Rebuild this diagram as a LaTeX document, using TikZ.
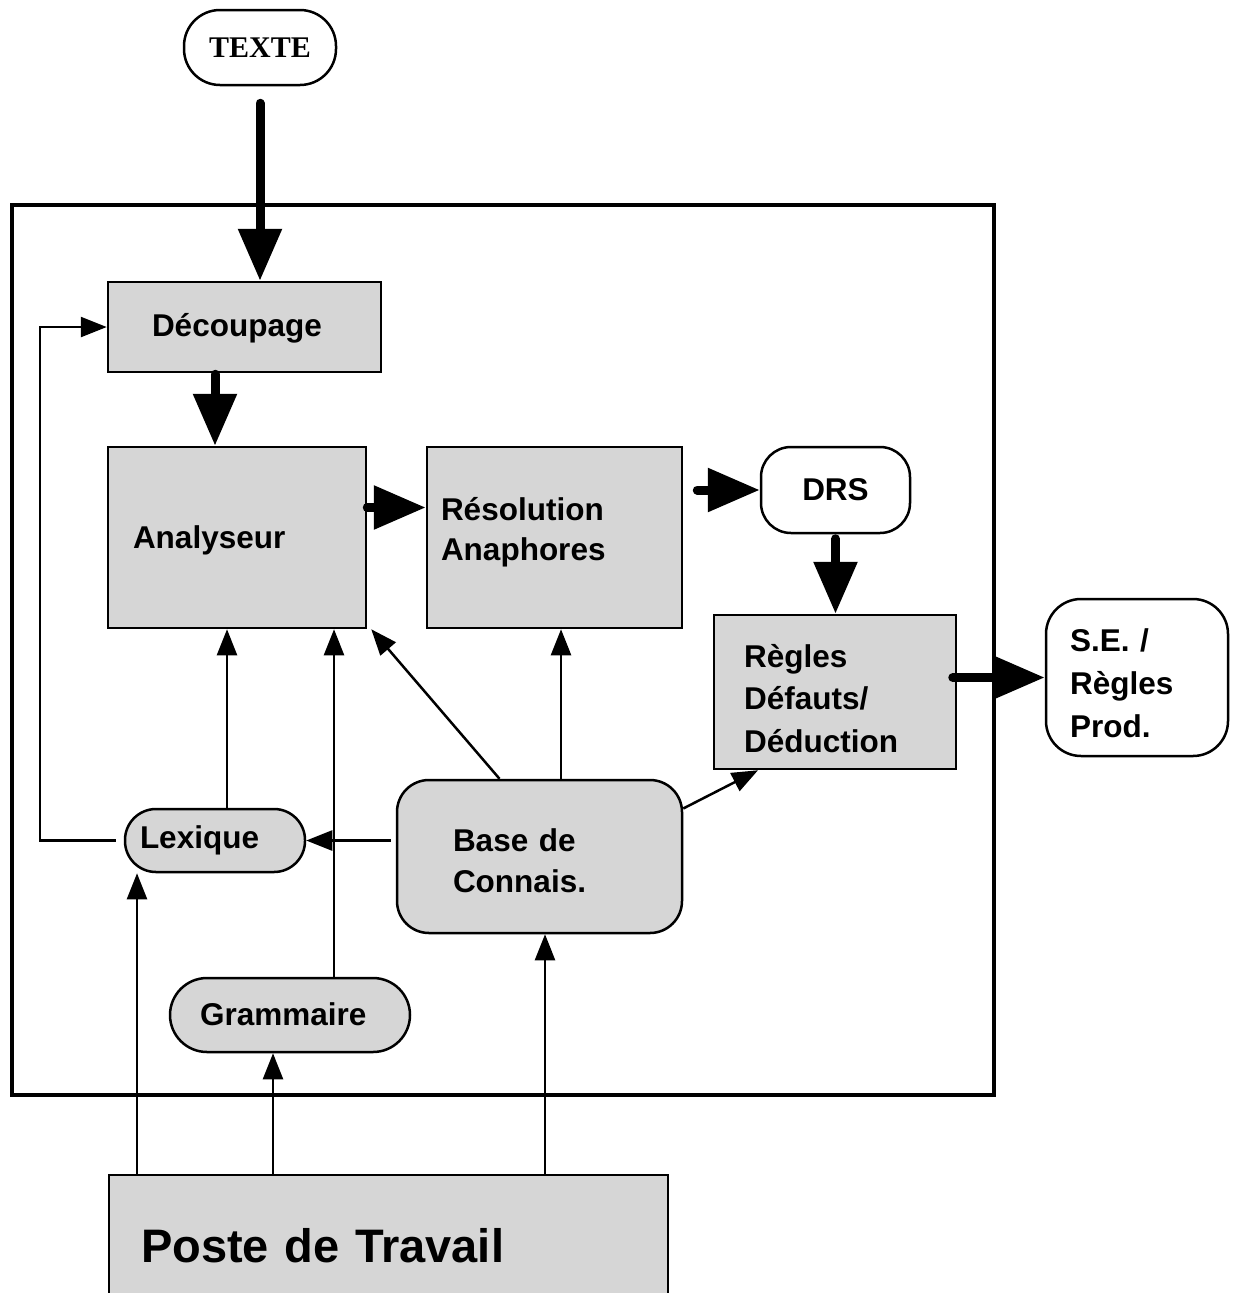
\documentclass[tikz,border=0pt]{standalone}
\usepackage{fontspec}
\setmainfont{Liberation Sans}
\newfontfamily\serifbf{Liberation Serif}
\usetikzlibrary{arrows.meta}
\definecolor{boxgray}{RGB}{214,214,214}
\begin{document}
\begin{tikzpicture}[x=1pt, y=-1pt, font=\bfseries\fontsize{31.5pt}{43pt}\selectfont,
  box/.style={rectangle, draw=black, line width=2.5pt, fill=#1, align=left, inner ysep=0pt},
  bigarrow/.style={line width=9pt, line cap=round, -{Triangle[width=42pt, length=52pt]}},
  thinarrow/.style={line width=2.5pt, -{Triangle[width=20pt, length=26pt]}}]
  \useasboundingbox (0,0) rectangle (1235,1293);
  \draw[line width=4.5pt] (12,205) rectangle (994,1095);

  \node[box=white, rounded corners=36pt, minimum width=152pt, text height=47pt, text depth=28pt, align=center, font=\serifbf\bfseries\fontsize{30pt}{30pt}\selectfont] (texte) at (260,47.5) {TEXTE};
  \node[box=boxgray, text width=185pt, inner xsep=44pt, text height=54pt, text depth=36pt] (decoup) at (244.5,327) {Découpage};
  \node[box=boxgray, text width=208pt, inner xsep=25pt, text height=101pt, text depth=80pt] (analy) at (237,537.5) {Analyseur};
  \node[box=boxgray, text width=227pt, inner xsep=14pt, text height=73pt, text depth=108pt, font=\bfseries\fontsize{31.5pt}{40pt}\selectfont] (resol) at (554.5,537.5) {Résolution\\Anaphores};
  \node[box=white, rounded corners=30pt, minimum width=149pt, text height=53pt, text depth=33pt, align=center] (drs) at (835.5,490) {DRS};
  \node[box=boxgray, text width=182pt, inner xsep=30pt, text height=52pt, text depth=102pt, font=\bfseries\fontsize{31.5pt}{42.5pt}\selectfont] (regles) at (835,692) {Règles\\Défauts/\\Déduction};
  \node[box=white, rounded corners=35pt, text width=134pt, inner xsep=24pt, text height=52pt, text depth=105pt] (se) at (1137,677.5) {S.E. /\\Règles\\Prod.};
  \node[box=boxgray, rounded corners=31pt, text width=150pt, inner xsep=15pt, text height=39pt, text depth=24pt] (lex) at (215,840.5) {Lexique};
  \node[box=boxgray, rounded corners=32pt, text width=173pt, inner xsep=56pt, text height=71pt, text depth=82pt, font=\bfseries\fontsize{31.5pt}{41pt}\selectfont] (base) at (539.5,856.5) {Base de\\Connais.};
  \node[box=boxgray, rounded corners=37pt, text width=180pt, inner xsep=30pt, text height=47pt, text depth=27pt] (gram) at (290,1015) {Grammaire};
  \node[box=boxgray, text width=495pt, inner xsep=32pt, text height=87pt, text depth=58pt, font=\bfseries\fontsize{47pt}{47pt}\selectfont] (poste) at (388.5,1247.5) {Poste de Travail};

  \draw[bigarrow] ([yshift=-17pt]texte.south) -- (texte.south |- decoup.north);
  \draw[bigarrow] ([xshift=-29.5pt, yshift=-1pt]decoup.south) -- ([xshift=-29.5pt]decoup.south |- analy.north);
  \draw[bigarrow] ([yshift=30pt]analy.east) -- ([yshift=30pt]resol.west);
  \draw[bigarrow] ([xshift=-62.5pt]drs.west) -- (drs.west);
  \draw[bigarrow] ([yshift=-4.5pt]drs.south) -- (drs.south |- regles.north);
  \draw[bigarrow] ([xshift=-4.5pt, yshift=14.5pt]regles.east) -- (se.west);

  \draw[thinarrow] ([xshift=-8pt]lex.west) -- ++(-76,0) |- (decoup.west);
  \draw[thinarrow] ([xshift=12pt]lex.north) -- ([xshift=12pt]lex.north |- analy.south);
  \draw[thinarrow] ([xshift=44pt]gram.north) -- ([xshift=44pt]gram.north |- analy.south);
  \draw[thinarrow] ([xshift=-40pt]base.north) -- ([xshift=4pt]analy.south east);
  \draw[thinarrow] ([xshift=21.5pt]base.north) -- ([xshift=21.5pt]base.north |- resol.south);
  \draw[thinarrow] ([xshift=-5pt]base.west |- lex.east) -- (lex.east);
  \draw[thinarrow] ([yshift=48pt]base.east) -- ([xshift=-77pt]regles.south);
  \draw[thinarrow] ([xshift=-78pt]lex.south |- poste.north) -- ([xshift=-78pt]lex.south);
  \draw[thinarrow] ([xshift=-17pt]gram.south |- poste.north) -- ([xshift=-17pt]gram.south);
  \draw[thinarrow] ([xshift=5.5pt]base.south |- poste.north) -- ([xshift=5.5pt]base.south);
\end{tikzpicture}
\end{document}
